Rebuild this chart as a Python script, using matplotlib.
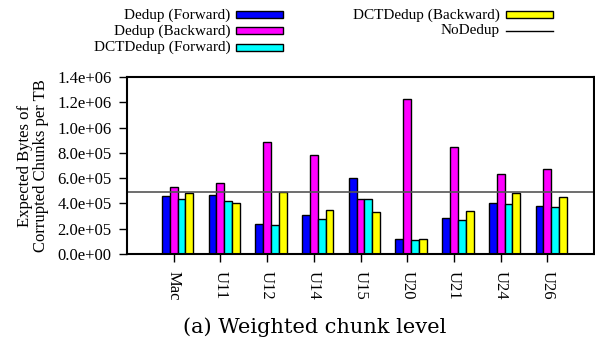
import matplotlib
matplotlib.use('Agg')
from matplotlib import pyplot as plt
from matplotlib.patches import Rectangle
from matplotlib.lines import Line2D
import numpy as np

plt.rcParams['font.family'] = ['Liberation Serif', 'DejaVu Serif']

traces = ['Mac', 'U11', 'U12', 'U14', 'U15', 'U20', 'U21', 'U24', 'U26']
dedup_fwd = [4.56e5, 4.64e5, 2.40e5, 3.11e5, 6.04e5, 1.16e5, 2.82e5, 4.01e5, 3.77e5]
dedup_bwd = [5.32e5, 5.64e5, 8.84e5, 7.86e5, 4.38e5, 1.229e6, 8.49e5, 6.35e5, 6.72e5]
dct_fwd = [4.35e5, 4.19e5, 2.29e5, 2.74e5, 4.38e5, 1.08e5, 2.72e5, 3.99e5, 3.69e5]
dct_bwd = [4.80e5, 4.06e5, 4.88e5, 3.46e5, 3.32e5, 1.21e5, 3.43e5, 4.80e5, 4.49e5]
nodedup = 4.93e5

series = [('Dedup (Forward)', dedup_fwd, '#0000ff'),
          ('Dedup (Backward)', dedup_bwd, '#ff00ff'),
          ('DCTDedup (Forward)', dct_fwd, '#00ffff'),
          ('DCTDedup (Backward)', dct_bwd, '#ffff00')]

fig = plt.figure(figsize=(5.95, 3.39), dpi=100)
ax = fig.add_axes([127 / 595, 1 - 254 / 339, 467 / 595, 177 / 339])

x = np.arange(len(traces))
w = 0.168
for i, (name, vals, col) in enumerate(series):
    ax.bar(x + (i - 1) * w, vals, w, color=col, edgecolor='black', linewidth=1)
ax.axhline(nodedup, color='#555555', lw=1.2)

ax.set_xlim(-1, 9)
ax.set_ylim(0, 1.4e6)
ax.set_yticks(np.arange(0, 1.41e6, 2e5))
ax.set_yticklabels(['%.1e' % v for v in np.arange(0, 1.41e6, 2e5)], fontsize=12)
ax.set_xticks(x)
ax.set_xticklabels(traces, rotation=270, fontsize=12, va='top', ha='center')
ax.tick_params(axis='y', length=6, width=1, pad=5)
ax.tick_params(axis='x', length=6, width=1, pad=6)
for s in ax.spines.values():
    s.set_linewidth(1.5)
ax.set_ylabel('Expected Bytes of\nCorrupted Chunks per TB', fontsize=12, labelpad=6,
              linespacing=1.0)

# legend, gnuplot style: text right-aligned, sample on the right
rows = [0.956, 0.909, 0.861]
pos = [(0.387, rows[0]), (0.387, rows[1]), (0.387, rows[2]), (0.840, rows[0])]
bw, bh = 47 / 595, 7 / 339
for (name, vals, col), (tx, ty) in zip(series, pos):
    fig.text(tx, ty, name, ha='right', va='center', fontsize=11)
    fig.add_artist(Rectangle((tx + 6 / 595, ty - bh / 2), bw, bh, facecolor=col,
                             edgecolor='black', lw=1, transform=fig.transFigure))
fig.text(0.840, rows[1], 'NoDedup', ha='right', va='center', fontsize=11)
fig.add_artist(Line2D([0.840 + 6 / 595, 0.840 + 53 / 595], [rows[1], rows[1]],
                      color='black', lw=1, transform=fig.transFigure))

fig.text(315 / 595, 6 / 339, '(a) Weighted chunk level', ha='center', va='baseline',
         fontsize=15, family='DejaVu Serif')

fig.savefig('out.png', dpi=100)
